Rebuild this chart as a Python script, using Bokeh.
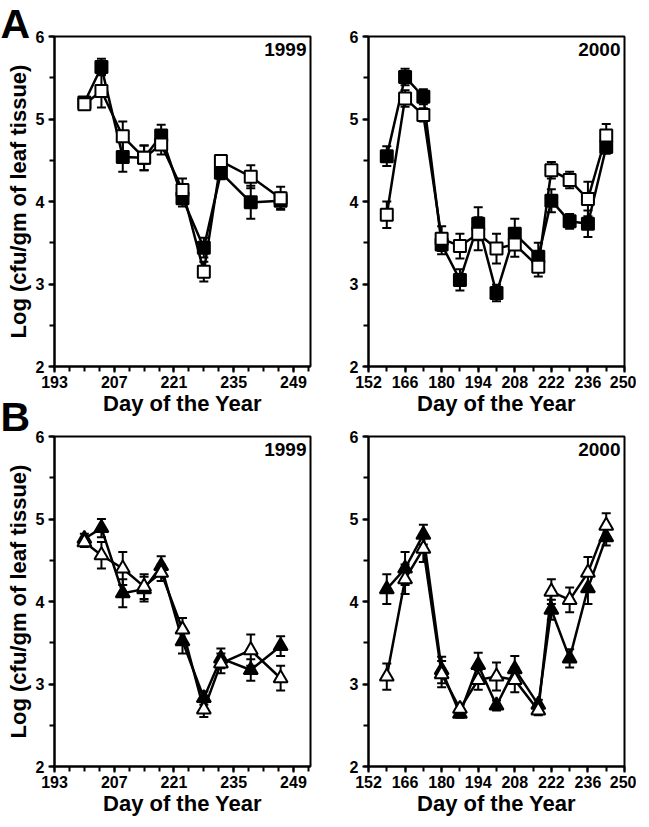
from bokeh.plotting import figure
from bokeh.layouts import column, row
from bokeh.models import Range1d, FixedTicker, Label
from bokeh.embed import file_html
from bokeh.resources import INLINE
import numpy as np

# ---------------- data ----------------
days_1999 = [200, 204, 209, 214, 218, 223, 228, 232, 239, 246]
days_2000 = [159, 166, 173, 180, 187, 194, 201, 208, 217, 222, 229, 236, 243]

A99_filled = [5.20, 5.63, 4.54, 4.53, 4.80, 4.04, 3.44, 4.35, 3.99, 4.01]
A99_filled_err = [0.05, 0.10, 0.18, 0.15, 0.13, 0.10, 0.12, 0.08, 0.20, 0.10]
A99_open = [5.18, 5.34, 4.79, 4.53, 4.69, 4.14, 3.15, 4.49, 4.30, 4.04]
A99_open_err = [0.05, 0.20, 0.18, 0.15, 0.12, 0.14, 0.12, 0.06, 0.14, 0.14]

A00_filled = [4.55, 5.51, 5.27, 3.48, 3.05, 3.73, 2.89, 3.61, 3.33, 4.01, 3.76, 3.73, 4.66]
A00_filled_err = [0.12, 0.10, 0.09, 0.12, 0.13, 0.20, 0.10, 0.18, 0.17, 0.14, 0.09, 0.16, 0.08]
A00_open = [3.84, 5.25, 5.05, 3.55, 3.46, 3.61, 3.43, 3.48, 3.21, 4.38, 4.26, 4.03, 4.80]
A00_open_err = [0.16, 0.10, 0.08, 0.15, 0.15, 0.20, 0.18, 0.15, 0.12, 0.10, 0.10, 0.21, 0.14]

B99_filled = [4.76, 4.89, 4.10, 4.15, 4.43, 3.52, 2.83, 3.31, 3.17, 3.46]
B99_filled_err = [0.06, 0.11, 0.17, 0.15, 0.12, 0.15, 0.08, 0.12, 0.13, 0.12]
B99_open = [4.72, 4.56, 4.40, 4.18, 4.35, 3.66, 2.69, 3.25, 3.41, 3.07]
B99_open_err = [0.06, 0.16, 0.20, 0.15, 0.10, 0.14, 0.09, 0.12, 0.19, 0.15]

B00_filled = [4.15, 4.40, 4.81, 3.17, 2.64, 3.23, 2.74, 3.18, 2.75, 3.90, 3.31, 4.16, 4.78]
B00_filled_err = [0.18, 0.20, 0.12, 0.16, 0.05, 0.15, 0.06, 0.16, 0.06, 0.12, 0.11, 0.19, 0.10]
B00_open = [3.09, 4.27, 4.64, 3.12, 2.70, 3.05, 3.09, 3.05, 2.68, 4.12, 4.02, 4.35, 4.92]
B00_open_err = [0.16, 0.18, 0.16, 0.16, 0.05, 0.12, 0.17, 0.15, 0.06, 0.15, 0.15, 0.19, 0.15]

xticks_1999 = [193, 207, 221, 235, 249]
xticks_2000 = [152, 166, 180, 194, 208, 222, 236, 250]
yticks = [2, 3, 4, 5, 6]
x_range_1999 = (193, 253)
x_range_2000 = (152, 250)
panel_letters = ["A", "B"]
y_title = "Log (cfu/gm of leaf tissue)"

FONT = "Liberation Sans"
FW, FH = 256, 330
TOP_A, BOT_A, TOP_B, BOT_B = 36, 62, 8, 45
STRIP_W = 32


def errbars(p, days, vals, errs):
    v = np.array(vals)
    e = np.array(errs)
    p.segment(x0=days, y0=v - e, x1=days, y1=v + e, line_color="black", line_width=2)
    p.scatter(days, v + e, marker="dash", size=9, line_color="black", line_width=2)
    p.scatter(days, v - e, marker="dash", size=9, line_color="black", line_width=2)


def panel(days, filled, filled_err, opened, opened_err, marker, msize, xr, xmajor, minor_step,
          year, left, right, top, bottom):
    p = figure(frame_width=FW, frame_height=FH, x_range=Range1d(*xr), y_range=Range1d(2, 6),
               output_backend="svg", toolbar_location=None,
               min_border_left=left, min_border_right=right,
               min_border_top=top, min_border_bottom=bottom)
    p.grid.visible = False
    p.outline_line_color = "black"
    p.outline_line_width = 2
    p.outline_line_alpha = 1

    minors = list(np.arange(xmajor[0], xr[1] + 0.01, minor_step))
    p.xaxis.ticker = FixedTicker(ticks=xmajor, minor_ticks=minors)
    p.yaxis.ticker = FixedTicker(ticks=yticks, minor_ticks=[2, 2.5, 3, 3.5, 4, 4.5, 5, 5.5, 6])
    for ax in (p.xaxis[0], p.yaxis[0]):
        ax.axis_line_width = 2
        ax.major_tick_line_width = 2
        ax.minor_tick_line_width = 2
        ax.major_tick_in = 0
        ax.minor_tick_in = 0
        ax.major_tick_out = 6
        ax.minor_tick_out = 5
        ax.major_label_text_font = FONT
        ax.major_label_text_font_style = "bold"
        ax.major_label_text_font_size = "16px"
        ax.major_label_text_color = "black"
        ax.axis_label_text_font = FONT
        ax.axis_label_text_font_style = "bold"
        ax.axis_label_text_color = "black"
    p.yaxis.major_label_standoff = 4
    p.xaxis.major_label_standoff = 3
    p.xaxis.axis_label = "Day of the Year"
    p.xaxis.axis_label_text_font_size = "22px"
    p.xaxis.axis_label_standoff = 0

    # lines
    p.line(days, filled, line_color="black", line_width=2.5)
    p.line(days, opened, line_color="black", line_width=2.5)
    # error bars
    errbars(p, days, filled, filled_err)
    errbars(p, days, opened, opened_err)
    # markers
    p.scatter(days, filled, marker=marker, size=msize, fill_color="black",
              line_color="black", line_width=2)
    p.scatter(days, opened, marker=marker, size=msize, fill_color="white",
              line_color="black", line_width=2)

    p.add_layout(Label(x=FW - 4, y=FH - 6, x_units="screen", y_units="screen",
                       text=year, text_align="right", text_baseline="top",
                       text_font=FONT, text_font_style="bold", text_font_size="19px",
                       text_color="black"))
    return p


pA1 = panel(days_1999, A99_filled, A99_filled_err, A99_open, A99_open_err, "square", 12,
            x_range_1999, xticks_1999, 3.5, "1999", 19, 10, TOP_A, BOT_A)
pA2 = panel(days_2000, A00_filled, A00_filled_err, A00_open, A00_open_err, "square", 12,
            x_range_2000, xticks_2000, 7, "2000", 48, 12, TOP_A, BOT_A)
pB1 = panel(days_1999, B99_filled, B99_filled_err, B99_open, B99_open_err, "triangle", 14,
            x_range_1999, xticks_1999, 3.5, "1999", 19, 10, TOP_B, BOT_B)
pB2 = panel(days_2000, B00_filled, B00_filled_err, B00_open, B00_open_err, "triangle", 14,
            x_range_2000, xticks_2000, 7, "2000", 48, 12, TOP_B, BOT_B)

# left strip holding the panel letters and the y-axis titles
H_A = TOP_A + FH + BOT_A
H_B = TOP_B + FH + BOT_B
H = H_A + H_B
strip = figure(width=STRIP_W, height=H, x_range=Range1d(0, 1), y_range=Range1d(0, 1),
               output_backend="svg", toolbar_location=None,
               min_border_left=0, min_border_right=0, min_border_top=0, min_border_bottom=0)
strip.axis.visible = False
strip.grid.visible = False
strip.outline_line_color = None

letter_baselines = [H - 23, H - 416]     # screen px from the strip's bottom
for letter, yy in zip(panel_letters, letter_baselines):
    strip.add_layout(Label(x=0, y=yy, x_units="screen", y_units="screen", text=letter,
                           text_align="left", text_baseline="alphabetic", text_font=FONT,
                           text_font_style="bold", text_font_size="41px", text_color="black"))

ytitle_centres = [H - (TOP_A + FH / 2), H_B - (TOP_B + FH / 2)]
for yy in ytitle_centres:
    strip.add_layout(Label(x=18, y=yy, x_units="screen", y_units="screen", text=y_title,
                           angle=np.pi / 2, text_align="center", text_baseline="middle",
                           text_font=FONT, text_font_style="bold", text_font_size="22px",
                           text_color="black"))

layout = row(strip, column(row(pA1, pA2), row(pB1, pB2)))
open("out.html", "w").write(file_html(layout, INLINE))
